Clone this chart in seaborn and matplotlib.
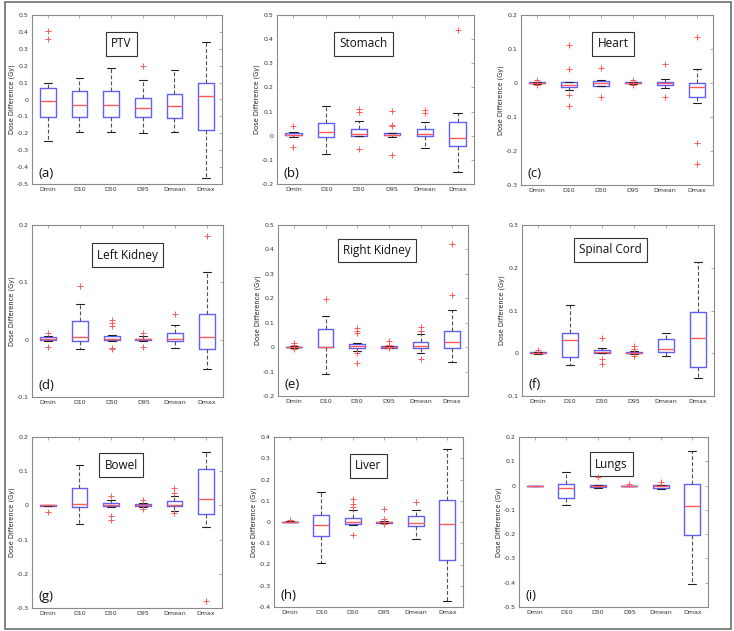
import numpy as np
import pandas as pd
import matplotlib
matplotlib.use("Agg")
import matplotlib.pyplot as plt
from matplotlib.patches import Rectangle
from matplotlib.ticker import FuncFormatter, MultipleLocator
import seaborn as sns

# ---------------- data ----------------
METRICS = ["Dmin", "D10", "D50", "D95", "Dmean", "Dmax"]

# PTV
PTV_LO  = [-0.245, -0.195, -0.195, -0.197, -0.195, -0.462]
PTV_Q1  = [-0.102, -0.102, -0.102, -0.102, -0.107, -0.178]
PTV_MED = [-0.008, -0.033, -0.033, -0.050, -0.040, 0.019]
PTV_Q3  = [0.069, 0.048, 0.052, 0.010, 0.031, 0.100]
PTV_HI  = [0.098, 0.127, 0.187, 0.113, 0.173, 0.342]
PTV_OUT_CAT = ["Dmin", "Dmin", "D95"]
PTV_OUT_VAL = [0.407, 0.358, 0.200]

# Stomach
STO_LO  = [-0.004, -0.074, 0.000, -0.004, -0.049, -0.152]
STO_Q1  = [0.001, -0.007, 0.000, 0.001, 0.000, -0.042]
STO_MED = [0.005, 0.016, 0.008, 0.005, 0.008, -0.008]
STO_Q3  = [0.010, 0.053, 0.029, 0.010, 0.029, 0.056]
STO_HI  = [0.016, 0.122, 0.061, 0.012, 0.057, 0.093]
STO_OUT_CAT = ["Dmin", "Dmin", "D50", "D50", "D50", "D95", "D95", "D95", "D95", "Dmean", "Dmean", "Dmax"]
STO_OUT_VAL = [0.041, -0.048, 0.110, 0.097, -0.053, 0.102, 0.045, 0.041, -0.079, 0.105, 0.093, 0.436]

# Heart
HEA_LO  = [-0.003, -0.020, -0.010, -0.002, -0.015, -0.060]
HEA_Q1  = [-0.001, -0.012, -0.008, 0.000, -0.006, -0.042]
HEA_MED = [0.001, -0.005, 0.000, 0.001, -0.001, -0.013]
HEA_Q3  = [0.002, 0.002, 0.007, 0.003, 0.002, 0.000]
HEA_HI  = [0.003, 0.004, 0.008, 0.004, 0.011, 0.041]
HEA_OUT_CAT = ["Dmin", "Dmin", "D10", "D10", "D10", "D10", "D50", "D50", "D95", "D95", "Dmean", "Dmean", "Dmax", "Dmax", "Dmax"]
HEA_OUT_VAL = [0.009, -0.006, 0.112, 0.041, -0.035, -0.068, 0.044, -0.040, 0.009, -0.005, 0.055, -0.041, 0.136, -0.177, -0.237]

# Left Kidney
LK_LO  = [-0.003, -0.016, -0.002, -0.003, -0.014, -0.052]
LK_Q1  = [0.000, -0.002, -0.001, 0.000, -0.002, -0.016]
LK_MED = [0.001, 0.005, 0.002, 0.001, 0.002, 0.005]
LK_Q3  = [0.004, 0.032, 0.006, 0.002, 0.011, 0.044]
LK_HI  = [0.007, 0.062, 0.008, 0.006, 0.026, 0.118]
LK_OUT_CAT = ["Dmin", "Dmin", "D10", "D50", "D50", "D50", "D50", "D50", "D95", "D95", "Dmean", "Dmax"]
LK_OUT_VAL = [0.012, -0.012, 0.094, 0.034, 0.029, 0.024, -0.014, -0.016, 0.012, -0.012, 0.044, 0.181]

# Right Kidney
RK_LO  = [-0.004, -0.108, -0.014, -0.003, -0.022, -0.059]
RK_Q1  = [-0.001, 0.000, -0.002, -0.002, -0.002, -0.002]
RK_MED = [0.001, 0.002, 0.005, 0.001, 0.005, 0.020]
RK_Q3  = [0.002, 0.074, 0.012, 0.003, 0.021, 0.066]
RK_HI  = [0.004, 0.128, 0.016, 0.005, 0.052, 0.152]
RK_OUT_CAT = ["Dmin", "Dmin", "Dmin", "D10", "D50", "D50", "D50", "D50", "D50", "D95", "D95", "D95", "Dmean", "Dmean", "Dmean", "Dmax", "Dmax"]
RK_OUT_VAL = [0.017, 0.009, -0.008, 0.198, 0.077, 0.066, 0.057, -0.024, -0.066, 0.027, 0.008, -0.005, 0.081, 0.068, -0.050, 0.421, 0.213]

# Spinal Cord
SC_LO  = [-0.001, -0.027, 0.000, -0.001, -0.006, -0.059]
SC_Q1  = [0.000, -0.009, 0.001, 0.000, 0.003, -0.031]
SC_MED = [0.001, 0.030, 0.004, 0.001, 0.009, 0.035]
SC_Q3  = [0.003, 0.047, 0.008, 0.003, 0.033, 0.097]
SC_HI  = [0.004, 0.113, 0.013, 0.005, 0.047, 0.213]
SC_OUT_CAT = ["Dmin", "D50", "D50", "D50", "D95", "D95", "D95"]
SC_OUT_VAL = [0.007, 0.035, -0.013, -0.026, 0.018, 0.010, -0.006]

# Bowel
BOW_LO  = [-0.002, -0.054, -0.006, -0.004, -0.016, -0.063]
BOW_Q1  = [-0.001, -0.004, -0.002, -0.001, -0.001, -0.025]
BOW_MED = [0.000, 0.004, 0.002, 0.001, 0.002, 0.019]
BOW_Q3  = [0.001, 0.052, 0.006, 0.004, 0.012, 0.107]
BOW_HI  = [0.002, 0.119, 0.017, 0.007, 0.027, 0.157]
BOW_OUT_CAT = ["Dmin", "D50", "D50", "D50", "D95", "D95", "Dmean", "Dmean", "Dmean", "Dmax"]
BOW_OUT_VAL = [-0.018, 0.027, -0.031, -0.042, 0.017, -0.011, 0.052, 0.035, -0.022, -0.279]

# Liver
LIV_LO  = [-0.002, -0.192, -0.014, -0.004, -0.080, -0.370]
LIV_Q1  = [-0.001, -0.067, -0.008, -0.003, -0.020, -0.180]
LIV_MED = [0.000, -0.014, -0.002, 0.000, -0.006, -0.008]
LIV_Q3  = [0.002, 0.031, 0.020, 0.002, 0.027, 0.105]
LIV_HI  = [0.004, 0.141, 0.058, 0.005, 0.058, 0.344]
LIV_OUT_CAT = ["Dmin", "D50", "D50", "D50", "D50", "D95", "D95", "D95", "Dmean"]
LIV_OUT_VAL = [0.011, 0.106, 0.083, 0.070, -0.063, 0.061, 0.013, -0.008, 0.095]

# Lungs
LUN_LO  = [0.000, -0.078, -0.008, 0.000, -0.016, -0.406]
LUN_Q1  = [0.000, -0.052, -0.006, 0.000, -0.008, -0.204]
LUN_MED = [0.000, -0.008, 0.000, 0.000, -0.002, -0.085]
LUN_Q3  = [0.000, 0.005, 0.003, 0.000, 0.002, 0.007]
LUN_HI  = [0.000, 0.054, 0.003, 0.000, 0.002, 0.144]
LUN_OUT_CAT = ["D50", "D95", "Dmean"]
LUN_OUT_VAL = [0.037, 0.007, 0.014]

PANELS = [
    ("PTV", "(a)", PTV_LO, PTV_Q1, PTV_MED, PTV_Q3, PTV_HI, PTV_OUT_CAT, PTV_OUT_VAL),
    ("Stomach", "(b)", STO_LO, STO_Q1, STO_MED, STO_Q3, STO_HI, STO_OUT_CAT, STO_OUT_VAL),
    ("Heart", "(c)", HEA_LO, HEA_Q1, HEA_MED, HEA_Q3, HEA_HI, HEA_OUT_CAT, HEA_OUT_VAL),
    ("Left Kidney", "(d)", LK_LO, LK_Q1, LK_MED, LK_Q3, LK_HI, LK_OUT_CAT, LK_OUT_VAL),
    ("Right Kidney", "(e)", RK_LO, RK_Q1, RK_MED, RK_Q3, RK_HI, RK_OUT_CAT, RK_OUT_VAL),
    ("Spinal Cord", "(f)", SC_LO, SC_Q1, SC_MED, SC_Q3, SC_HI, SC_OUT_CAT, SC_OUT_VAL),
    ("Bowel", "(g)", BOW_LO, BOW_Q1, BOW_MED, BOW_Q3, BOW_HI, BOW_OUT_CAT, BOW_OUT_VAL),
    ("Liver", "(h)", LIV_LO, LIV_Q1, LIV_MED, LIV_Q3, LIV_HI, LIV_OUT_CAT, LIV_OUT_VAL),
    ("Lungs", "(i)", LUN_LO, LUN_Q1, LUN_MED, LUN_Q3, LUN_HI, LUN_OUT_CAT, LUN_OUT_VAL),
]

YLIMS = [(-0.5, 0.5), (-0.2, 0.5), (-0.3, 0.2),
         (-0.1, 0.2), (-0.2, 0.5), (-0.1, 0.3),
         (-0.3, 0.2), (-0.4, 0.4), (-0.5, 0.2)]

# ---------------- layout (pixels: left, top, right, bottom) ----------------
W, H = 734, 631
RECTS = [(32, 15, 222, 184), (277, 15, 474, 184), (521, 15, 713, 185),
         (32, 225, 223, 397), (278, 225, 468, 396), (522, 225, 714, 396),
         (32, 437, 222, 608), (274, 437, 463, 607), (519, 437, 708, 607)]
TITLE_POS = [(0.47, 0.83), (0.44, 0.83), (0.48, 0.83),
             (0.50, 0.825), (0.52, 0.85), (0.46, 0.855),
             (0.47, 0.836), (0.50, 0.83), (0.49, 0.84)]

sns.set_style("white")
plt.rcParams["font.family"] = ["DejaVu Sans"]

fig = plt.figure(figsize=(W / 100, H / 100), dpi=100)
fig.patch.set_facecolor("white")

BLUE = "#5f5fff"
RED = "#ff5a5a"
FRAME = "#8a8a8a"

fmt = FuncFormatter(lambda v, p: ("%g" % round(v, 3)) if abs(v) > 1e-9 else "0")

for k, (name, letter, lo, q1, med, q3, hi, ocat, oval) in enumerate(PANELS):
    l, t, r, b = RECTS[k]
    ax = fig.add_axes([l / W, 1 - b / H, (r - l) / W, (b - t) / H])
    rows = []
    for i, m in enumerate(METRICS):
        for v in (lo[i], q1[i], med[i], q3[i], hi[i]):
            rows.append({"metric": m, "value": v})
    df = pd.DataFrame(rows)
    sns.boxplot(data=df, x="metric", y="value", order=METRICS, ax=ax,
                whis=(0, 100), width=0.5, fill=False, showfliers=False,
                boxprops=dict(color=BLUE, linewidth=1.0),
                medianprops=dict(color=RED, linewidth=1.0),
                whiskerprops=dict(color="#505050", linewidth=0.8, linestyle=(0, (3.5, 2))),
                capprops=dict(color="#202020", linewidth=0.8))
    odf = pd.DataFrame({"x": [METRICS.index(c) for c in ocat], "y": oval})
    sns.scatterplot(data=odf, x="x", y="y", ax=ax, marker="+", color=RED,
                    s=16, linewidth=0.7, legend=False, zorder=5)
    ax.set_xlim(-0.5, 5.5)
    ax.set_ylim(*YLIMS[k])
    ax.yaxis.set_major_locator(MultipleLocator(0.1))
    ax.yaxis.set_major_formatter(fmt)
    ax.set_xticks(range(len(METRICS)))
    ax.set_xticklabels(METRICS)
    ax.set_xlabel("")
    ax.set_ylabel("Dose Difference (Gy)", fontsize=4.8, color="#222222", labelpad=1)
    ax.tick_params(axis="both", which="both", direction="in", length=2.5, width=0.5,
                   colors=FRAME, labelcolor="#333333", labelsize=4.5,
                   top=True, right=True, pad=2.5)
    for sp in ax.spines.values():
        sp.set_visible(True)
        sp.set_color(FRAME)
        sp.set_linewidth(0.8)
    tx, ty = TITLE_POS[k]
    ax.text(tx, ty, name, transform=ax.transAxes, ha="center", va="center",
            fontsize=8.5, family=["Open Sans", "DejaVu Sans"], color="#111111",
            bbox=dict(boxstyle="square,pad=0.45", fc="white", ec="#333333", lw=0.8))
    ax.text(0.035, 0.065, letter, transform=ax.transAxes, ha="left", va="center",
            fontsize=9.5, family=["Open Sans", "DejaVu Sans"], color="#111111")

fig.add_artist(Rectangle((5 / W, 1 - 629 / H), (731 - 5) / W, (629 - 2) / H,
                         transform=fig.transFigure, fill=False, ec="#7a7a7a", lw=1.3))

fig.savefig("out.png", dpi=100)
